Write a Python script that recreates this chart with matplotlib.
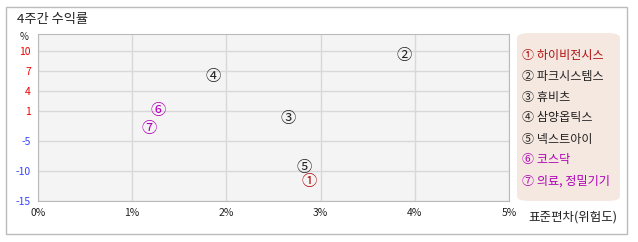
import numpy as np
import matplotlib.pyplot as plt
from matplotlib.patches import Rectangle, FancyBboxPatch

plt.rcParams['font.family'] = ['Noto Sans CJK KR', 'DejaVu Sans']

# data
names = ["하이비전시스", "파크시스템스", "휴비츠", "삼양옵틱스", "넥스트아이", "코스닥", "의료, 정밀기기"]
marks = ["①", "②", "③", "④", "⑤", "⑥", "⑦"]
risk = [2.88, 3.89, 2.65, 1.86, 2.83, 1.27, 1.18]          # 표준편차 (%)
returns = [-11.7, 9.25, -0.6, 6.1, -9.5, 1.0, -2.6]        # 4주간 수익률 (%)
colors = ["#b01010", "#222222", "#222222", "#222222", "#222222", "#b000b8", "#b000b8"]

y_ticks = [-15, -10, -5, 1, 4, 7, 10]
x_ticks = [0, 1, 2, 3, 4, 5]
x_labels = ["0%", "1%", "2%", "3%", "4%", "5%"]

# piecewise vertical scale, tick values spaced as in the original
y_knots = [-15, -10, -5, 1, 4, 7, 10, 12.5]
y_pos = [0, 30, 60, 90, 110, 130, 150, 166.7]


def fwd(v):
    return np.interp(v, y_knots, y_pos)


def inv(p):
    return np.interp(p, y_pos, y_knots)


W, H = 638, 242
fig = plt.figure(figsize=(W / 100, H / 100), dpi=100)

# outer frame
fig.patches.append(Rectangle((6 / W, 1 - 234 / H), 621 / W, 227 / H, transform=fig.transFigure,
                             fill=False, edgecolor="#bbbbbb", linewidth=1))
fig.text(17 / W, 1 - 19 / H, "4주간 수익률", fontsize=9.5, color="#222222", va="center", ha="left")

ax = fig.add_axes([38 / W, 1 - 201 / H, 471 / W, 167 / H])
ax.set_yscale("function", functions=(fwd, inv))
ax.set_xlim(0, 5)
ax.set_ylim(-15, 12.5)
ax.set_facecolor("#f4f4f4")
ax.set_xticks(x_ticks)
ax.set_xticklabels(x_labels)
ax.set_yticks(y_ticks)
ax.set_yticklabels([str(v) for v in y_ticks])
ax.grid(True, color="#d8d8d8", linewidth=1)
ax.set_axisbelow(True)
ax.tick_params(length=0, labelsize=7.5, pad=5)
for lbl, v in zip(ax.get_yticklabels(), y_ticks):
    lbl.set_color("#ee0000" if v > 0 else "#3344ff")
for lbl in ax.get_xticklabels():
    lbl.set_color("#222222")
for s in ax.spines.values():
    s.set_color("#bbbbbb")

for x, y, m, c in zip(risk, returns, marks, colors):
    ax.text(x, y, m, fontsize=11, color=c, ha="center", va="center")

fig.text(24 / W, 1 - 37 / H, "%", fontsize=7, color="#222222", ha="center", va="center")
fig.text(528 / W, 1 - 217 / H, "표준편차(위험도)", fontsize=9, color="#222222", ha="left", va="center")

# legend box
fig.patches.append(FancyBboxPatch((517 / W, 1 - 201 / H), 103 / W, 168 / H, transform=fig.transFigure,
                                  boxstyle="round,pad=0,rounding_size=0.02", facecolor="#f5e8e0",
                                  edgecolor="none"))
leg_y = [55, 76, 98, 118, 139, 160, 181]
for ly, m, n, c in zip(leg_y, marks, names, colors):
    fig.text(522 / W, 1 - ly / H, m + " " + n, fontsize=8.7, color=c, ha="left", va="center")

fig.savefig("out.png", dpi=100)
